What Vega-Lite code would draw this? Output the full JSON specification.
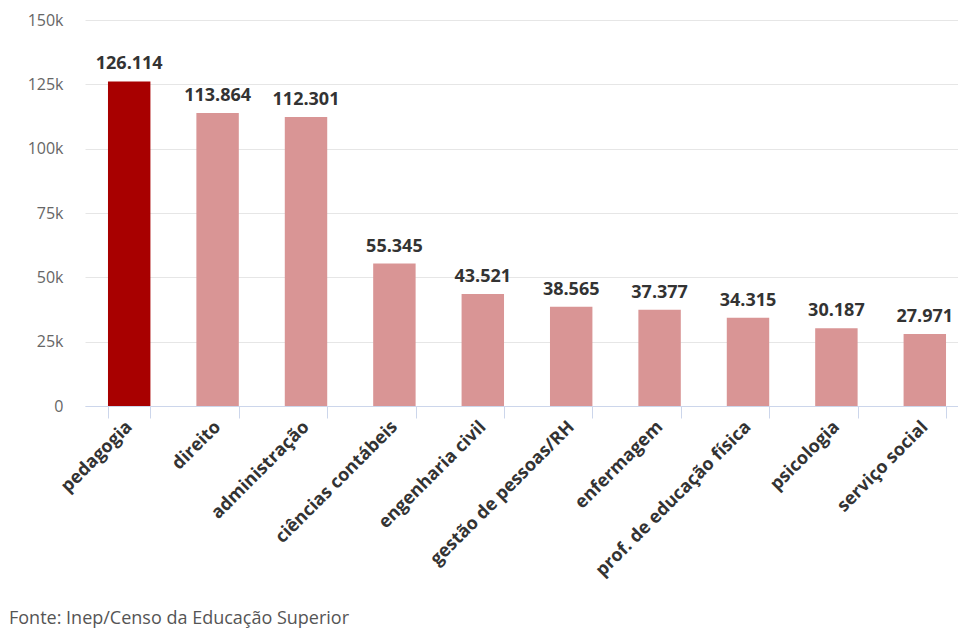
{
  "$schema": "https://vega.github.io/schema/vega-lite/v6.json",
  "autosize": "none",
  "width": 884,
  "height": 386,
  "padding": {"left": 85, "top": 20, "right": 0, "bottom": 223},
  "background": "white",
  "config": {
    "locale": {"number": {"decimal": ",", "thousands": ".", "grouping": [3], "currency": ["R$", ""]}},
    "view": {"stroke": null},
    "font": "Open Sans"
  },
  "title": {
    "text": "Fonte: Inep/Censo da Educação Superior",
    "orient": "bottom",
    "anchor": "start",
    "frame": "group",
    "dx": -76,
    "offset": 30,
    "font": "Open Sans",
    "fontSize": 18,
    "fontWeight": "normal",
    "color": "#555555"
  },
  "data": {
    "values": [
      {"curso": "pedagogia", "valor": 126114, "destaque": "sim"},
      {"curso": "direito", "valor": 113864, "destaque": "nao"},
      {"curso": "administração", "valor": 112301, "destaque": "nao"},
      {"curso": "ciências contábeis", "valor": 55345, "destaque": "nao"},
      {"curso": "engenharia civil", "valor": 43521, "destaque": "nao"},
      {"curso": "gestão de pessoas/RH", "valor": 38565, "destaque": "nao"},
      {"curso": "enfermagem", "valor": 37377, "destaque": "nao"},
      {"curso": "prof. de educação física", "valor": 34315, "destaque": "nao"},
      {"curso": "psicologia", "valor": 30187, "destaque": "nao"},
      {"curso": "serviço social", "valor": 27971, "destaque": "nao"}
    ]
  },
  "encoding": {
    "x": {
      "field": "curso",
      "type": "nominal",
      "sort": null,
      "scale": {"paddingInner": 0.52, "paddingOuter": 0.26},
      "axis": {
        "title": null,
        "labelAngle": -45,
        "labelAlign": "right",
        "labelBaseline": "middle",
        "labelFont": "Open Sans",
        "labelFontSize": 18,
        "labelFontWeight": "bold",
        "labelColor": "#333333",
        "labelPadding": 6,
        "tickBand": "extent",
        "tickSize": 12,
        "tickColor": "#ccd6eb",
        "domainColor": "#ccd6eb",
        "labelOverlap": false,
        "labelLimit": 300
      }
    },
    "y": {
      "field": "valor",
      "type": "quantitative",
      "scale": {"domain": [0, 150000]},
      "axis": {
        "title": null,
        "values": [0, 25000, 50000, 75000, 100000, 125000, 150000],
        "labelExpr": "datum.value == 0 ? '0' : format(datum.value / 1000, 'd') + 'k'",
        "domain": false,
        "ticks": false,
        "labelPadding": 22,
        "labelFont": "Open Sans",
        "labelFontSize": 16,
        "labelColor": "#666666",
        "gridColor": "#e6e6e6"
      }
    }
  },
  "layer": [
    {
      "mark": {"type": "bar"},
      "encoding": {
        "color": {
          "field": "destaque",
          "type": "nominal",
          "scale": {"domain": ["sim", "nao"], "range": ["#a80000", "#d99595"]},
          "legend": null
        }
      }
    },
    {
      "mark": {"type": "text", "dy": -17, "font": "Open Sans", "fontSize": 18, "fontWeight": "bold", "color": "#333333"},
      "encoding": {
        "text": {"field": "valor", "type": "quantitative", "format": ",d"}
      }
    }
  ]
}
